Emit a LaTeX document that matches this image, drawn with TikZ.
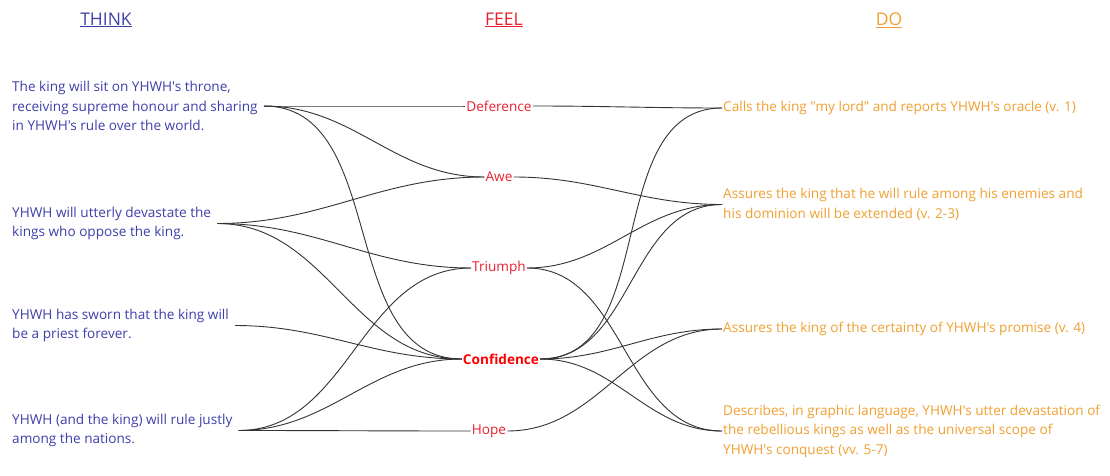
\documentclass[tikz,border=0pt]{standalone}
\usepackage{fontspec}
\setmainfont{Open Sans}[Ligatures=TeXOff]
\usepackage{tikz}

\definecolor{thinkblue}{HTML}{3F3FAA}
\definecolor{feelred}{HTML}{E8202E}
\definecolor{dogold}{HTML}{F0A030}

\tikzset{
	header/.style={font=\fontsize{17.5}{21}\selectfont},
	think/.style={anchor=west,align=left,text=thinkblue,inner xsep=6pt,
		font=\fontsize{13.6}{19.5}\selectfont},
	feel/.style={text=feelred,inner sep=1pt,font=\fontsize{13.6}{19.5}\selectfont},
	do/.style={anchor=west,align=left,text=dogold,inner xsep=1pt,
		font=\fontsize{13.6}{19.5}\selectfont},
	link/.style={line width=0.9pt,black!80,out=0,in=180}
}

\begin{document}
\begin{tikzpicture}[x=1pt,y=-1pt]
	\useasboundingbox[fill=white] (0,0) rectangle (1110,476);

	% column headers
	\node[header,text=thinkblue] (thinkhead) at (106,20) {\underline{THINK}};
	\node[header,text=feelred] (feelhead) at (504,20) {\underline{FEEL}};
	\node[header,text=dogold] (dohead) at (889,20) {\underline{DO}};

	% think
	\node[think] (throne) at (6,106) {The king will sit on YHWH's throne,\\receiving supreme honour and sharing\\in YHWH's rule over the world.};
	\node[think] (devastate) at (6,223.5) {YHWH will utterly devastate the\\kings who oppose the king.};
	\node[think] (priest) at (6,325.5) {YHWH has sworn that the king will\\be a priest forever.};
	\node[think] (justly) at (6,430.5) {YHWH (and the king) will rule justly\\among the nations.};

	% feel
	\node[feel] (deference) at (499,106) {Deference};
	\node[feel] (awe) at (499,177) {Awe};
	\node[feel] (triumph) at (499,268) {Triumph};
	\node[feel,text=red,font=\fontsize{13.6}{19.5}\selectfont\bfseries] (confidence) at (501,359) {Confidence};
	\node[feel] (hope) at (489,431) {Hope};

	% do
	\node[do] (oracle) at (722,108) {Calls the king "my lord" and reports YHWH's oracle (v. 1)};
	\node[do] (dominion) at (722,204.5) {Assures the king that he will rule among his enemies and\\his dominion will be extended (v. 2-3)};
	\node[do] (promise) at (722,329) {Assures the king of the certainty of YHWH's promise (v. 4)};
	\node[do] (conquest) at (722,431) {Describes, in graphic language, YHWH's utter devastation of\\the rebellious kings as well as the universal scope of\\YHWH's conquest (vv. 5-7)};

	\foreach \from / \to in
	{throne/deference, throne/awe, throne/confidence,
	devastate/awe, devastate/triumph, devastate/confidence,
	priest/confidence, justly/triumph, justly/confidence, justly/hope,
	deference/oracle, awe/dominion, triumph/dominion, triumph/conquest,
	confidence/oracle, confidence/dominion, confidence/promise,
	confidence/conquest, hope/promise}
		\draw[link] (\from.east) to (\to.west);
\end{tikzpicture}
\end{document}
